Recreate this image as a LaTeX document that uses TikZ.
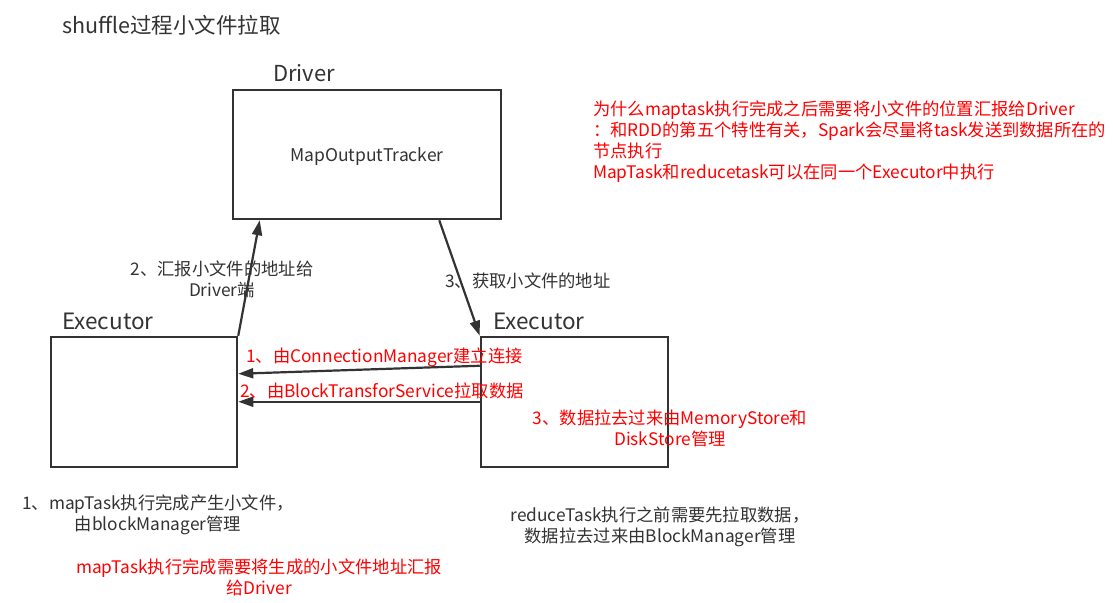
\documentclass[tikz,border=0pt]{standalone}
\usepackage{fontspec}
\setmainfont{Noto Sans CJK SC}
\usetikzlibrary{arrows.meta}
\definecolor{ink}{HTML}{333333}
\definecolor{redtxt}{HTML}{FF0000}
\begin{document}
\begin{tikzpicture}[x=1pt,y=-1pt,
  box/.style={draw=ink,line width=2.5pt,minimum width=#1,inner sep=0pt},
  lbl/.style={text=ink,font=\fontsize{17.3}{21}\selectfont,inner sep=0pt,align=center},
  rlbl/.style={text=redtxt,font=\fontsize{17.3}{21}\selectfont,inner sep=0pt,align=center},
  head/.style={text=ink,font=\fontsize{21.5}{24}\selectfont,inner sep=0pt,anchor=west},
  conn/.style={draw=ink,line width=2.2pt,-{Triangle[length=15pt,width=10pt]}}]
\useasboundingbox[fill=white] (0,0) rectangle (1113,602);
\node[head] (title) at (62,25) {shuffle过程小文件拉取};
\node[head,font=\fontsize{22}{24}\selectfont] (drvlbl) at (273,73) {Driver};
\node[box=268pt,minimum height=129pt] (driver) at (367,154.5) {};
\node[text=ink,font=\fontsize{17.5}{20}\selectfont] (mot) at (367,157) {MapOutputTracker};
\node[rlbl,anchor=north west,align=left] (why) at (593,101) {为什么maptask执行完成之后需要将小文件的位置汇报给Driver\\：和RDD的第五个特性有关，Spark会尽量将task发送到数据所在的\\节点执行\\MapTask和reducetask可以在同一个Executor中执行};
\node[head,font=\fontsize{22.5}{24}\selectfont] (lexlbl) at (62,321) {Executor};
\node[head,font=\fontsize{22.5}{24}\selectfont] (rexlbl) at (493,321) {Executor};
\node[box=186pt,minimum height=130pt] (lexec) at (144,402) {};
\node[box=187pt,minimum height=130pt] (rexec) at (574.5,402) {};
\draw[conn] (lexec.north east) -- ([xshift=28pt]driver.south west);
\draw[conn] ([xshift=-63pt]driver.south east) -- (rexec.north west);
\draw[conn] ([yshift=-30pt]rexec.north west) -- ([yshift=-38pt]lexec.north east);
\draw[conn] ([yshift=-66pt]rexec.north west) -- ([yshift=-66pt]lexec.north east);
\node[lbl] (l2) at (222,279) {2、汇报小文件的地址给\\Driver端};
\node[lbl,anchor=west] (l3) at (445,281) {3、获取小文件的地址};
\node[rlbl,anchor=west] (r1) at (246,357) {1、由ConnectionManager建立连接};
\node[rlbl,anchor=west] (r2) at (240,391) {2、由BlockTransforService拉取数据};
\node[rlbl] (r3) at (670,428.5) {3、数据拉去过来由MemoryStore和\\DiskStore管理};
\node[lbl] (b1) at (158,514.5) {1、mapTask执行完成产生小文件，\\由blockManager管理};
\node[rlbl] (b2) at (259,577.5) {mapTask执行完成需要将生成的小文件地址汇报\\给Driver};
\node[lbl] (b3) at (660,526.5) {reduceTask执行之前需要先拉取数据，\\数据拉去过来由BlockManager管理};
\end{tikzpicture}
\end{document}
